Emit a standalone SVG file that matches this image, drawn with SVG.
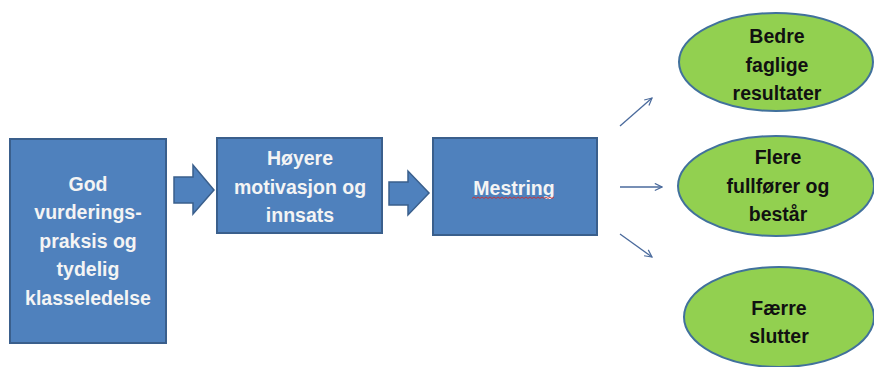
<svg xmlns="http://www.w3.org/2000/svg" width="874" height="367" viewBox="0 0 874 367">
<defs>
<style>
.box{fill:#4f81bd;stroke:#3a5f8c;stroke-width:2}
.blk{fill:#4f81bd;stroke:#3a5f8c;stroke-width:1.5;stroke-linejoin:miter}
.ell{fill:#92d050;stroke:#41719c;stroke-width:2}
.wt{font-family:"Liberation Sans",Arial,sans-serif;font-weight:bold;font-size:19.5px;fill:#f4f4f4;text-anchor:middle}
.bt{font-family:"Liberation Sans",Arial,sans-serif;font-weight:bold;font-size:19.5px;fill:#111;text-anchor:middle}
.ln{stroke:#4a6a9c;stroke-width:1.3;fill:none}
</style>
<marker id="open" viewBox="0 0 10 10" refX="9" refY="5" markerWidth="9" markerHeight="9" markerUnits="userSpaceOnUse" orient="auto">
<path d="M1,1 L9,5 L1,9" fill="none" stroke="#4a6a9c" stroke-width="1.3"/>
</marker>
</defs>
<rect width="874" height="367" fill="#ffffff"/>
<g id="n1">
<rect class="box" x="10" y="139" width="156" height="204"/>
<text class="wt" x="88" y="191">God</text>
<text class="wt" x="88" y="219">vurderings-</text>
<text class="wt" x="88" y="247.5">praksis og</text>
<text class="wt" x="88" y="276">tydelig</text>
<text class="wt" x="88" y="305">klasseledelse</text>
</g>
<g id="n2">
<rect class="box" x="217" y="138" width="165" height="95"/>
<text class="wt" x="300" y="165">Høyere</text>
<text class="wt" x="300" y="193.5">motivasjon og</text>
<text class="wt" x="300" y="222">innsats</text>
</g>
<g id="n3">
<rect class="box" x="433" y="138" width="164" height="97"/>
<text class="wt" x="514" y="195">Mestring</text>
<path d="M472,198.5 l2,-1.5 l2,1.5 l2,-1.5 l2,1.5 l2,-1.5 l2,1.5 l2,-1.5 l2,1.5 l2,-1.5 l2,1.5 l2,-1.5 l2,1.5 l2,-1.5 l2,1.5 l2,-1.5 l2,1.5 l2,-1.5 l2,1.5 l2,-1.5 l2,1.5 l2,-1.5 l2,1.5 l2,-1.5 l2,1.5 l2,-1.5 l2,1.5 l2,-1.5 l2,1.5 l2,-1.5 l2,1.5 l2,-1.5 l2,1.5 l2,-1.5 l2,1.5 l2,-1.5 l2,1.5 l2,-1.5 l2,1.5 l2,-1.5 l2,1.5 l2,-1.5" fill="none" stroke="#d03030" stroke-width="0.9"/>
</g>
<g id="e1">
<ellipse class="ell" cx="776" cy="62" rx="97" ry="49"/>
<text class="bt" x="777" y="43">Bedre</text>
<text class="bt" x="777" y="72">faglige</text>
<text class="bt" x="777" y="100">resultater</text>
</g>
<g id="e2">
<ellipse class="ell" cx="776" cy="186" rx="98" ry="50"/>
<text class="bt" x="778" y="164">Flere</text>
<text class="bt" x="778" y="193">fullfører og</text>
<text class="bt" x="778" y="221">består</text>
</g>
<g id="e3">
<ellipse class="ell" cx="779" cy="317" rx="95" ry="50"/>
<text class="bt" x="779" y="315">Færre</text>
<text class="bt" x="779" y="343">slutter</text>
</g>
<g id="connectors">
<path class="blk" d="M174,177 L193,177 L193,165 L214,190 L193,214 L193,203 L174,203 Z"/>
<path class="blk" d="M389,182 L408,182 L408,171 L429,193 L408,215 L408,205 L389,205 Z"/>
<line class="ln" x1="620" y1="126" x2="652" y2="98" marker-end="url(#open)"/>
<line class="ln" x1="620" y1="187" x2="662" y2="187" marker-end="url(#open)"/>
<line class="ln" x1="620" y1="234" x2="652" y2="257" marker-end="url(#open)"/>
</g>
</svg>
